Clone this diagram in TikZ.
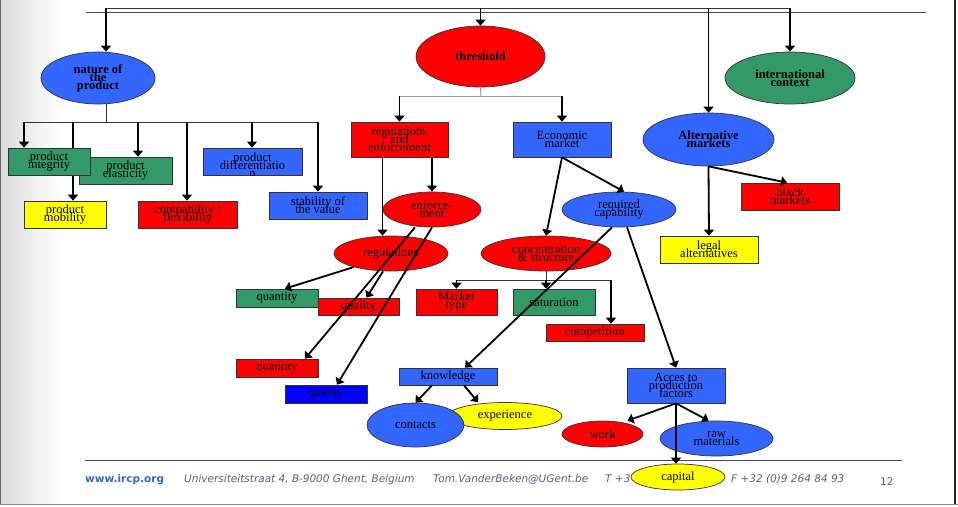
\documentclass[tikz,border=0pt]{standalone}
\usepackage{fontspec}
\setmainfont{Liberation Serif}
\newfontfamily\footfont{DejaVu Sans}
\usetikzlibrary{arrows.meta,shapes.geometric,backgrounds}
\definecolor{nodeblue}{RGB}{51,102,255}
\definecolor{nodered}{RGB}{255,0,0}
\definecolor{nodegreen}{RGB}{51,153,102}
\definecolor{nodeyellow}{RGB}{255,255,0}
\definecolor{pureblue}{RGB}{0,0,255}
\definecolor{rulecol}{RGB}{46,78,126}
\definecolor{footcol}{RGB}{84,98,128}
\definecolor{webcol}{RGB}{51,102,204}
\newcommand\nodefont{\fontsize{12.5}{8}\selectfont\lineskiplimit=-20pt\relax}
\newcommand\headfont{\nodefont\bfseries}
\newcommand\smallfoot{\fontsize{10.5}{12}\footfont\itshape}

\begin{document}
\begin{tikzpicture}[x=1pt,y=-1pt,
    txt/.style={font=\nodefont, align=center, text=black, inner sep=0pt},
    sz/.style 2 args={minimum width=#1, minimum height=#2},
    box/.style={txt, rectangle, draw=black!80, line width=0.7pt},
    oval/.style={txt, ellipse, draw=black!80, line width=0.7pt},
    head/.style={oval, font=\headfont},
    foot/.style={anchor=base west, inner sep=0pt, text=footcol, font=\smallfoot},
    arr/.style={-{Triangle[width=10pt,length=6pt]}, line width=1.8pt},
    tree/.style={line width=0.8pt, draw=black!80},
    gtree/.style={line width=1pt, draw=black!40}]
    \useasboundingbox (0,0) rectangle (958,506);
    % slide frame
    \begin{scope}[on background layer]
        \shade[left color=black!14, right color=white] (0,0) rectangle (60,504);
    \end{scope}
    \draw[black!60, line width=1pt] (0.5,0) -- (0.5,504);
    \draw[black!45, line width=1pt] (0,504) -- (958,504);
    \draw[black!85, line width=2pt] (955,0) -- (955,504);
    \draw[rulecol, line width=1pt] (86,12) -- (926,12);
    \draw[rulecol, line width=1pt] (85,460) -- (902,460);
    % footer
    \node (web) at (85,482) [foot, text=webcol, font=\fontsize{10.5}{12}\footfont\bfseries] {www.ircp.org};
    \node (addr) at (184,482) [foot] {Universiteitstraat 4, B-9000 Ghent, Belgium};
    \node (mail) at (433,482) [foot] {Tom.VanderBeken@UGent.be};
    \node (tel) at (605,482) [foot] {T +3};
    \node (fax) at (731,482) [foot] {F +32 (0)9 264 84 93};
    \node (pageno) at (880,485) [foot, font=\fontsize{10.5}{12}\footfont] {12};

    % main topics
    \node (nature) at (98,78) [head, fill=nodeblue, sz={114}{52}] {nature of\\the\\product};
    \node (threshold) at (480.5,56.5) [head, fill=nodered, sz={129}{61}] {threshold};
    \node (intl) at (790,78) [head, fill=nodegreen, sz={130}{52}] {international\\context};
    \node (altmarkets) at (708.5,139.5) [head, fill=nodeblue, sz={131}{53}] {Alternative\\markets};

    % nature of the product
    \node (elasticity) at (125.5,170.5) [box, fill=nodegreen, sz={93}{27}] {product\\elasticity};
    \node (integrity) at (49,161.5) [box, fill=nodegreen, sz={82}{27}] {product\\integrity};
    \node (mobility) at (65,214.5) [box, fill=nodeyellow, sz={82}{27}] {product\\mobility};
    \node (compab) at (187.5,214.5) [box, fill=nodered, sz={99}{27}] {compability /\\flexibility};
    \node (diff) at (252.5,161.5) [box, fill=nodeblue, sz={99}{27}] {};
    \begin{scope}
        \clip (diff.south west) rectangle (diff.north east);
        \node (difftext) at ([yshift=-4]diff.center) [txt] {product\\differentiatio\\n};
    \end{scope}
    \node (stability) at (318,205.5) [box, fill=nodeblue, sz={98}{27}] {stability of\\the value};

    % threshold
    \node (regenf) at (399.5,139.5) [box, fill=nodered, sz={97}{35}] {regulations\\and\\enforcement};
    \node (econ) at (562,139.5) [box, fill=nodeblue, sz={98}{35}] {Economic\\market};
    \node (enforce) at (432,209.5) [oval, fill=nodered, sz={98}{35}] {enforce-\\ment};
    \node (regul) at (391,253.5) [oval, fill=nodered, sz={114}{35}] {regulations};
    \node (required) at (619,209.5) [oval, fill=nodeblue, sz={114}{35}] {required\\capability};
    \node (concentr) at (546,253.5) [oval, fill=nodered, sz={130}{35}] {concentration\\\& structure};
    \node (quantA) at (277,298) [box, fill=nodegreen, sz={82}{18}] {quantity};
    \node (qualA) at (358.5,306.5) [box, fill=nodered, sz={81}{17}] {quality};
    \node (markettype) at (456.5,302) [box, fill=nodered, sz={81}{26}] {Market\\type};
    \node (saturation) at (554,302) [box, fill=nodegreen, sz={82}{26}] {saturation};
    \node (competition) at (595,332.5) [box, fill=nodered, sz={98}{17}] {competition};
    \node (quantB) at (277,368) [box, fill=nodered, sz={82}{18}] {quantity};
    \node (qualB) at (326,394) [box, fill=pureblue, sz={82}{18}] {quality};
    \node (knowledge) at (448,376.5) [box, fill=nodeblue, sz={98}{17}] {knowledge};
    \node (acces) at (676,385.5) [box, fill=nodeblue, sz={98}{35}] {Acces to\\production\\factors};
    \node (experience) at (505,416) [oval, fill=nodeyellow, sz={114}{27}] {experience};
    \node (contacts) at (415.5,425) [oval, fill=nodeblue, sz={97}{44}] {contacts};
    \node (work) at (602.5,434) [oval, fill=nodered, sz={81}{26}] {work};
    \node (raw) at (716.5,438.5) [oval, fill=nodeblue, sz={113}{35}] {raw\\materials};
    \node (capital) at (678,477) [oval, fill=nodeyellow, sz={94}{26}] {capital};

    % alternative markets
    \node (black) at (790,196.5) [box, fill=nodered, sz={98}{27}] {black\\markets};
    \node (legal) at (709,249.5) [box, fill=nodeyellow, sz={98}{27}] {legal\\alternatives};

    % top bar
    \coordinate (topL) at (106,8);
    \coordinate (topR) at (790,8);
    \draw[tree] (topL) -- (topR);
    \draw[arr] (topL) -- (topL |- nature.north);
    \draw[arr] (threshold.north |- topL) -- (threshold.north);
    \draw[arr] (altmarkets.north |- topL) -- (altmarkets.north);
    \draw[arr] (topR) -- (intl.north);

    % nature tree, behind the boxes
    \begin{scope}[on background layer]
        \coordinate (nbar) at (106,122);
        \coordinate (n1) at (24,122);
        \coordinate (n2) at (73,122);
        \coordinate (n3) at (138,122);
        \coordinate (n4) at (187,122);
        \coordinate (n5) at (252,122);
        \coordinate (n6) at (318,122);
        \draw[tree] (nature.south -| nbar) -- (nbar);
        \draw[tree] (n1) -- (n6);
        \draw[arr] (n1) -- (n1 |- integrity.north);
        \draw[arr] (n2) -- (n2 |- mobility.north);
        \draw[arr] (n3) -- (n3 |- elasticity.north);
        \draw[arr] (n4) -- (n4 |- compab.north);
        \draw[arr] (n5) -- (n5 |- diff.north);
        \draw[arr] (n6) -- (n6 |- stability.north);
    \end{scope}

    % threshold tree
    \coordinate (tbar) at (481,96);
    \draw[gtree] (threshold.south) -- (tbar);
    \draw[gtree] (regenf.north |- tbar) -- (econ.north |- tbar);
    \draw[arr] (regenf.north |- tbar) -- (regenf.north);
    \draw[arr] (econ.north |- tbar) -- (econ.north);

    % regulations and enforcement
    \draw[arr] ([xshift=-17]regenf.south) -- ([xshift=-17]regenf.south |- regul.north);
    \draw[arr] (regenf.south -| enforce.north) -- (enforce.north);
    \draw[arr] (regul.200) -- ([xshift=8]quantA.north);
    \draw[arr] ([xshift=-8]regul.south) -- ([xshift=8]qualA.north);
    \draw[arr] ([xshift=-17]enforce.south) -- ([xshift=28]quantB.north);
    \draw[arr] (enforce.south) -- ([xshift=11]qualB.north);

    % economic market
    \draw[arr] (econ.south) -- (concentr.north);
    \draw[arr] (econ.south) -- ([xshift=5]required.north);
    \coordinate (cbar) at (546,280);
    \coordinate (cbarR) at (611,280);
    \draw[tree] (concentr.south) -- (cbar);
    \draw[tree] (markettype.north |- cbar) -- (cbarR);
    \draw[arr] (markettype.north |- cbar) -- (markettype.north);
    \draw[arr] (cbar) -- (cbar |- saturation.north);
    \draw[arr] (cbarR) -- (cbarR |- competition.north);
    \draw[arr] ([xshift=-7]required.south) -- ([xshift=17]knowledge.north);
    \draw[arr] ([xshift=8]required.south) -- (acces.north);

    % knowledge and production factors
    \draw[arr] ([xshift=-16]knowledge.south) -- (contacts.north);
    \draw[arr] ([xshift=16]knowledge.south) -- ([xshift=-27]experience.north);
    \draw[arr] (acces.south) -- ([xshift=25]work.north);
    \draw[arr] (acces.south) -- ([xshift=-8]raw.north);
    \draw[arr] (acces.south) -- (acces.south |- capital.north);

    % alternative markets
    \draw[arr] (altmarkets.south) -- (legal.north);
    \draw[arr] (altmarkets.south) -- ([xshift=-3]black.north);
\end{tikzpicture}
\end{document}
